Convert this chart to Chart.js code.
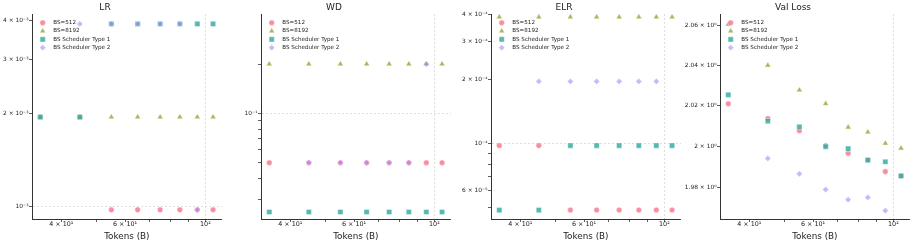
<!DOCTYPE html>
<html><head><meta charset="utf-8">
<script src="https://cdn.jsdelivr.net/npm/chart.js@4/dist/chart.umd.min.js"></script>
<style>
html,body{margin:0;padding:0;background:#fff;width:914px;height:246px;overflow:hidden;position:relative;}
canvas{position:absolute;top:0;}
</style></head><body>
<canvas id="c0" width="238" height="246" style="left:-12px"></canvas>
<canvas id="c1" width="238" height="246" style="left:217px"></canvas>
<canvas id="c2" width="238" height="246" style="left:447px"></canvas>
<canvas id="c3" width="238" height="246" style="left:676px"></canvas>
<script>
// ---------- data ----------
const tokens = [35, 45, 55, 65, 75, 85, 95, 105];
const seriesNames = ['BS=512', 'BS=8192', 'BS Scheduler Type 1', 'BS Scheduler Type 2'];

const lrBS512   = [0.00195, 0.00195, 0.000977, 0.000977, 0.000977, 0.000977, 0.000977, 0.000977];
const lrBS8192  = [0.00195, 0.00195, 0.00195, 0.00195, 0.00195, 0.00195, 0.00195, 0.00195];
const lrType1   = [0.00195, 0.00195, 0.0039, 0.0039, 0.0039, 0.0039, 0.0039, 0.0039];
const lrType2   = [null, 0.0039, 0.0039, 0.0039, 0.0039, 0.0039, 0.000977, null];

const wdBS512   = [0.05, 0.05, 0.05, 0.05, 0.05, 0.05, 0.05, 0.05];
const wdBS8192  = [0.2, 0.2, 0.2, 0.2, 0.2, 0.2, 0.2, 0.2];
const wdType1   = [0.025, 0.025, 0.025, 0.025, 0.025, 0.025, 0.025, 0.025];
const wdType2   = [null, 0.05, 0.05, 0.05, 0.05, 0.05, 0.2, null];

const elrBS512  = [0.0000977, 0.0000977, 0.0000488, 0.0000488, 0.0000488, 0.0000488, 0.0000488, 0.0000488];
const elrBS8192 = [0.00039, 0.00039, 0.00039, 0.00039, 0.00039, 0.00039, 0.00039, 0.00039];
const elrType1  = [0.0000488, 0.0000488, 0.0000977, 0.0000977, 0.0000977, 0.0000977, 0.0000977, 0.0000977];
const elrType2  = [null, 0.000195, 0.000195, 0.000195, 0.000195, 0.000195, 0.000195, null];

const lossBS512  = [2.0210, 2.0137, 2.0078, 2.0005, 1.9967, 1.9934, 1.9878, 1.9857];
const lossBS8192 = [2.0607, 2.0401, 2.0278, 2.0211, 2.0095, 2.0071, 2.0016, 1.9992];
const lossType1  = [2.0255, 2.0125, 2.0097, 2.0000, 1.9990, 1.9934, 1.9926, 1.9857];
const lossType2  = [null, 1.9942, 1.9867, 1.9791, 1.9742, 1.9753, 1.9689, null];

const xTicks = [40, 50, 60, 70, 80, 90, 100];
const xTickLabels = ['4 × 10¹', '', '6 × 10¹', '', '', '', '10²'];
const lrTicks = [0.001, 0.002, 0.003, 0.004];
const lrTickLabels = ['10⁻³', '2 × 10⁻³', '3 × 10⁻³', '4 × 10⁻³'];
const wdTicks = [0.03, 0.04, 0.05, 0.06, 0.07, 0.08, 0.09, 0.1, 0.2];
const wdTickLabels = ['', '', '', '', '', '', '', '10⁻¹', ''];
const elrTicks = [0.00005, 0.00006, 0.00007, 0.00008, 0.00009, 0.0001, 0.0002, 0.0003, 0.0004];
const elrTickLabels = ['', '6 × 10⁻⁵', '', '', '', '10⁻⁴', '2 × 10⁻⁴', '3 × 10⁻⁴', '4 × 10⁻⁴'];
const lossTicks = [1.98, 2.0, 2.02, 2.04, 2.06];
const lossTickLabels = ['1.98 × 10⁰', '2 × 10⁰', '2.02 × 10⁰', '2.04 × 10⁰', '2.06 × 10⁰'];

// ---------- style ----------
const FONT = '"DejaVu Sans", "Liberation Sans", sans-serif';
const Y_AXIS_W = 44;
const seriesStyle = [
  {rgb: '247,113,137', alpha: 0.8, pointStyle: 'circle',   radius: 2.8, order: 4},
  {rgb: '151,164,49',  alpha: 0.8, pointStyle: 'triangle', radius: 3.4, order: 3},
  {rgb: '54,173,164',  alpha: 0.85, pointStyle: 'rect',     radius: 3.7, order: 2},
  {rgb: '164,140,244', alpha: 0.6, pointStyle: 'rectRot',  radius: 3.1, order: 1}
];

function isDecade(v) {
  const l = Math.log10(v);
  return Math.abs(l - Math.round(l)) < 1e-6;
}
function labelFor(values, labels) {
  return function (value) {
    const i = values.findIndex(v => Math.abs(v - value) / v < 1e-6);
    return i >= 0 ? labels[i] : '';
  };
}

const innerLegend = {
  id: 'innerLegend',
  afterDatasetsDraw(chart) {
    const {ctx, chartArea} = chart;
    ctx.save();
    chart.data.datasets.forEach((ds, i) => {
      const x = chartArea.left + 10.7;
      const y = chartArea.top + 8.7 + i * 8.33;
      ctx.fillStyle = ds.backgroundColor;
      ctx.strokeStyle = ds.borderColor;
      ctx.lineWidth = ds.borderWidth;
      Chart.helpers.drawPoint(ctx, {pointStyle: ds.pointStyle, radius: ds.pointRadius, rotation: 0, borderWidth: ds.borderWidth}, x, y);
      ctx.fillStyle = '#222';
      ctx.font = '5.6px ' + FONT;
      ctx.textBaseline = 'middle';
      ctx.textAlign = 'left';
      ctx.fillText(ds.label, chartArea.left + 21.3, y);
    });
    ctx.restore();
  }
};

function makeDatasets(seriesList) {
  return seriesList.map((vals, s) => {
    const st = seriesStyle[s];
    const pts = [];
    tokens.forEach((t, i) => { if (vals[i] !== null) pts.push({x: t, y: vals[i]}); });
    return {
      label: seriesNames[s],
      data: pts,
      order: st.order,
      pointStyle: st.pointStyle,
      pointRadius: st.radius,
      pointHoverRadius: st.radius,
      backgroundColor: 'rgba(' + st.rgb + ',' + st.alpha + ')',
      borderColor: 'rgba(255,255,255,0.8)',
      borderWidth: 0.5,
      showLine: false
    };
  });
}

function axisCommon() {
  return {
    type: 'logarithmic',
    bounds: 'data',
    grid: {
      color: c => (c.tick && isDecade(c.tick.value)) ? '#d6d6d6' : 'rgba(0,0,0,0)',
      lineWidth: 0.8,
      tickColor: '#333',
      tickLength: 3,
      tickWidth: 0.8
    },
    border: {display: true, color: '#333', width: 1, dash: [2, 2]}
  };
}

function makePanel(id, title, seriesList, yMin, yMax, yTicks, yLabels) {
  const xAxis = Object.assign(axisCommon(), {
    position: 'bottom',
    min: 33.2, max: 111.0,
    afterBuildTicks: s => { s.ticks = xTicks.map(v => ({value: v})); },
    afterFit: s => { s.height = 27; },
    ticks: {autoSkip: false, maxRotation: 0, padding: -1, color: '#222',
            font: {family: FONT, size: 6.4}, callback: labelFor(xTicks, xTickLabels)},
    title: {display: true, text: 'Tokens (B)', color: '#222',
            font: {family: FONT, size: 8.8}, padding: {top: 0, bottom: 3.7}}
  });
  const yAxis = Object.assign(axisCommon(), {
    position: 'left',
    min: yMin, max: yMax,
    afterBuildTicks: s => { s.ticks = yTicks.map(v => ({value: v})); },
    afterFit: s => { s.width = Y_AXIS_W; },
    ticks: {autoSkip: false, padding: 0.5, color: '#222',
            font: {family: FONT, size: 5.9}, callback: labelFor(yTicks, yLabels)}
  });
  return new Chart(document.getElementById(id), {
    type: 'scatter',
    data: {datasets: makeDatasets(seriesList)},
    options: {
      responsive: false,
      animation: false,
      devicePixelRatio: 1,
      layout: {padding: {left: 0, right: 4, top: 0, bottom: 0}},
      scales: {x: xAxis, y: yAxis},
      plugins: {
        legend: {display: false},
        tooltip: {enabled: false},
        title: {display: true, text: title, color: '#222',
                font: {family: FONT, size: 9, weight: 'normal'},
                padding: {top: 2, bottom: 1.2}}
      }
    },
    plugins: [innerLegend]
  });
}

makePanel('c0', 'LR', [lrBS512, lrBS8192, lrType1, lrType2], 0.0009125, 0.0042, lrTicks, lrTickLabels);
makePanel('c1', 'WD', [wdBS512, wdBS8192, wdType1, wdType2], 0.02266, 0.404, wdTicks, wdTickLabels);
makePanel('c2', 'ELR', [elrBS512, elrBS8192, elrType1, elrType2], 0.0000443, 0.000403, elrTicks, elrTickLabels);
makePanel('c3', 'Val Loss', [lossBS512, lossBS8192, lossType1, lossType2], 1.9649, 2.0659, lossTicks, lossTickLabels);
</script>
</body></html>
